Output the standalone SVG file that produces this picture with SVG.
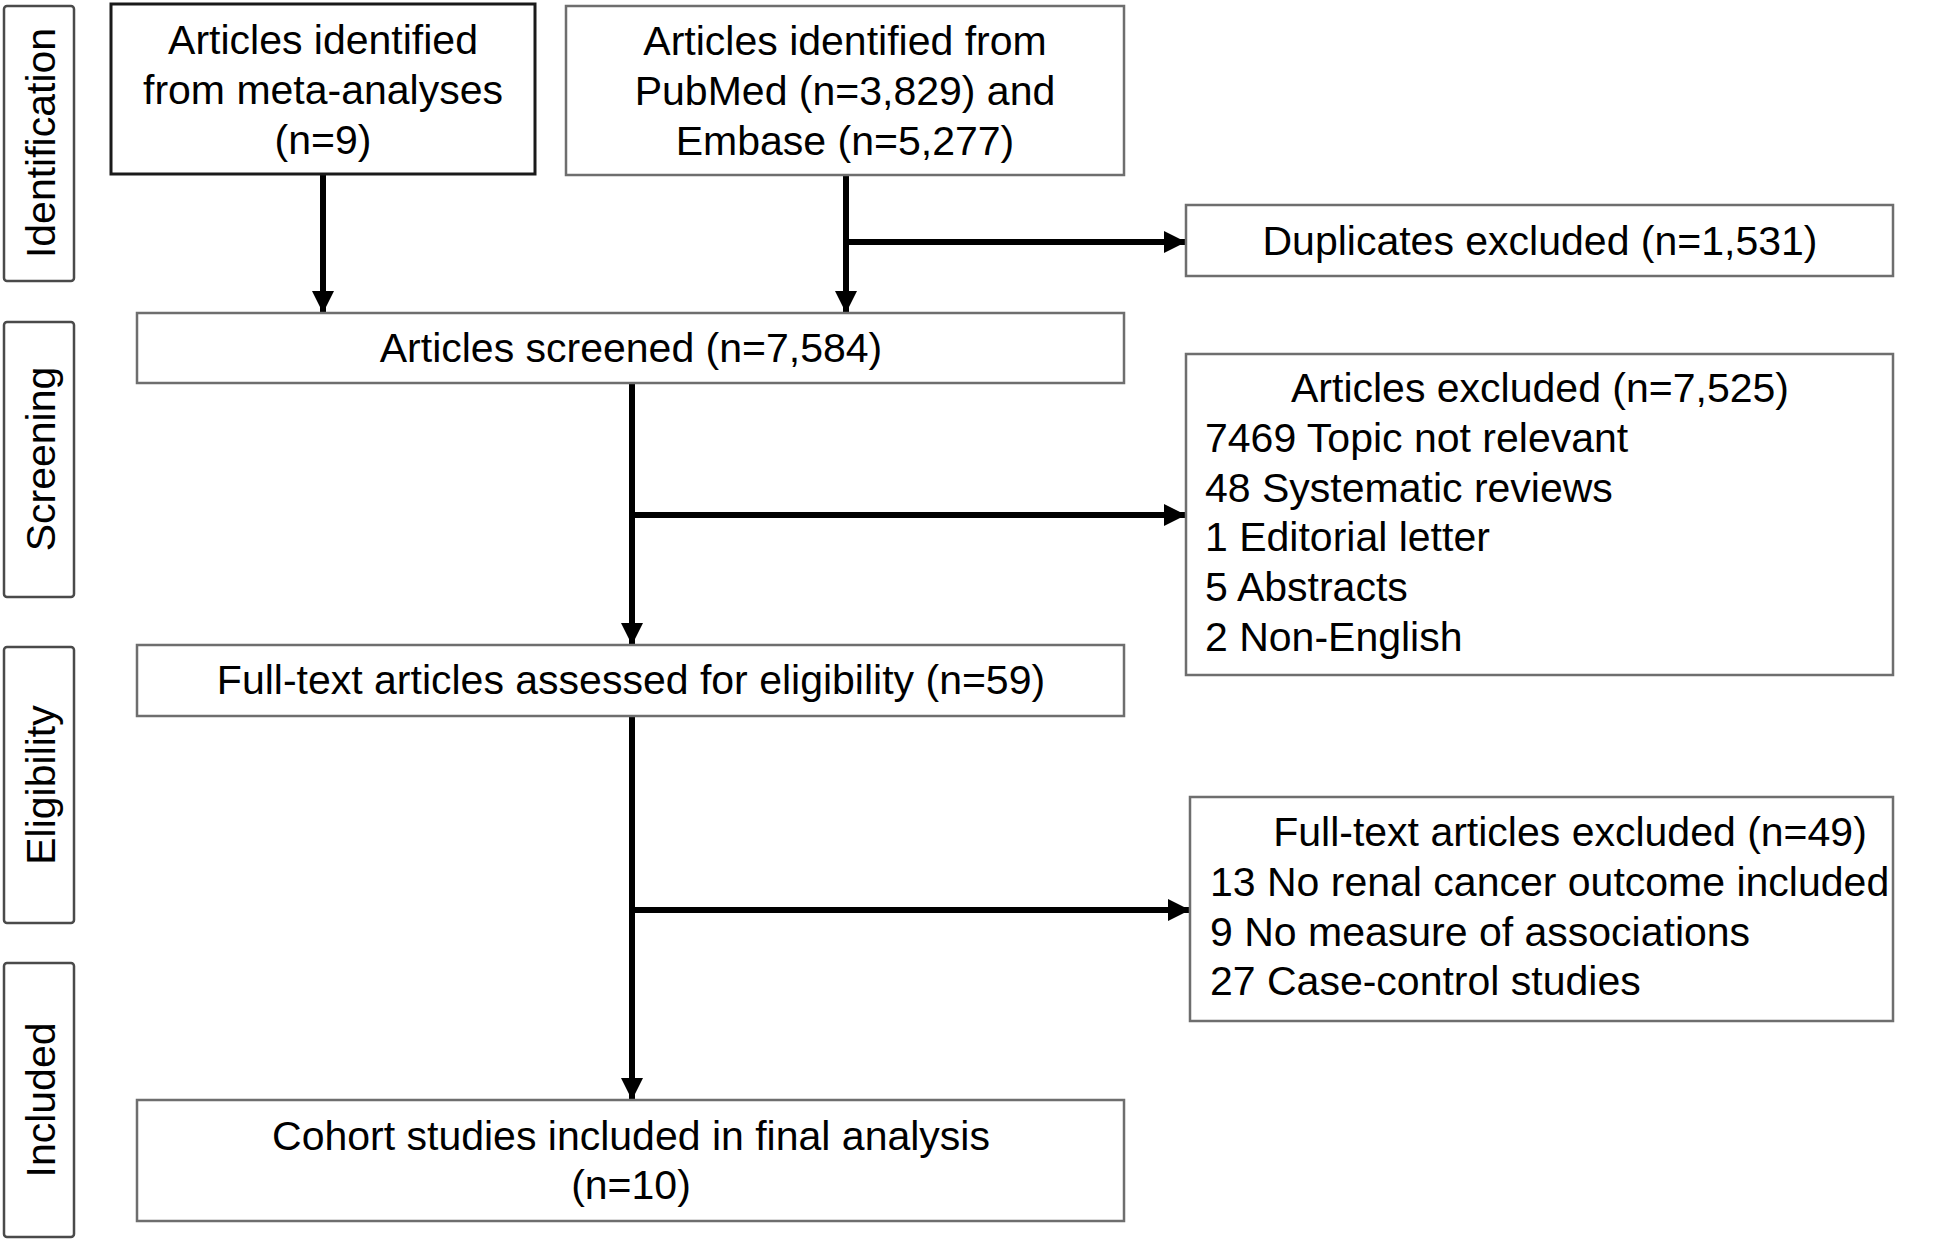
<svg xmlns="http://www.w3.org/2000/svg" width="1950" height="1240" viewBox="0 0 1950 1240">
<style>
.box{fill:#fff;stroke:#6e6e6e;stroke-width:2.5}
.strong{fill:#fff;stroke:#1a1a1a;stroke-width:3}
.side{fill:#fff;stroke:#4a4a4a;stroke-width:2.5}
.t{font-family:"Liberation Sans",Arial,sans-serif;font-size:41px;fill:#000}
.c{text-anchor:middle}
.conn{stroke:#000;stroke-width:6;fill:none}
</style>
<defs>
<marker id="arr" markerUnits="userSpaceOnUse" markerWidth="24" markerHeight="24" refX="22" refY="11" orient="auto">
<path d="M0,0 L22,11 L0,22 Z" fill="#000"/>
</marker>
</defs>
<rect width="1950" height="1240" fill="#fff"/>

<g id="phase-identification">
<rect class="side" x="4" y="6" width="70" height="275" rx="3"/>
<text class="t c" transform="translate(55,143) rotate(-90)">Identification</text>
</g>
<g id="phase-screening">
<rect class="side" x="4" y="322" width="70" height="275" rx="3"/>
<text class="t c" transform="translate(55,459) rotate(-90)">Screening</text>
</g>
<g id="phase-eligibility">
<rect class="side" x="4" y="647" width="70" height="276" rx="3"/>
<text class="t c" transform="translate(55,785) rotate(-90)">Eligibility</text>
</g>
<g id="phase-included">
<rect class="side" x="4" y="963" width="70" height="274" rx="3"/>
<text class="t c" transform="translate(55,1100) rotate(-90)">Included</text>
</g>

<g id="connectors">
<line class="conn" x1="323" y1="174" x2="323" y2="313" marker-end="url(#arr)"/>
<line class="conn" x1="846" y1="175" x2="846" y2="313" marker-end="url(#arr)"/>
<line class="conn" x1="846" y1="242" x2="1186" y2="242" marker-end="url(#arr)"/>
<line class="conn" x1="632" y1="383" x2="632" y2="645" marker-end="url(#arr)"/>
<line class="conn" x1="632" y1="515" x2="1186" y2="515" marker-end="url(#arr)"/>
<line class="conn" x1="632" y1="716" x2="632" y2="1100" marker-end="url(#arr)"/>
<line class="conn" x1="632" y1="910" x2="1190" y2="910" marker-end="url(#arr)"/>
</g>

<g id="meta">
<rect class="strong" x="111" y="4" width="424" height="170"/>
<text class="t c" x="323" y="54">Articles identified</text>
<text class="t c" x="323" y="104">from meta-analyses</text>
<text class="t c" x="323" y="154">(n=9)</text>
</g>
<g id="databases">
<rect class="box" x="566" y="6" width="558" height="169"/>
<text class="t c" x="845" y="55">Articles identified from</text>
<text class="t c" x="845" y="105">PubMed (n=3,829) and</text>
<text class="t c" x="845" y="155">Embase (n=5,277)</text>
</g>
<g id="duplicates">
<rect class="box" x="1186" y="205" width="707" height="71"/>
<text class="t c" x="1540" y="255">Duplicates excluded (n=1,531)</text>
</g>
<g id="screened">
<rect class="box" x="137" y="313" width="987" height="70"/>
<text class="t c" x="631" y="362">Articles screened (n=7,584)</text>
</g>
<g id="excluded">
<rect class="box" x="1186" y="354" width="707" height="321"/>
<text class="t c" x="1540" y="402">Articles excluded (n=7,525)</text>
<text class="t" x="1205" y="452">7469 Topic not relevant</text>
<text class="t" x="1205" y="502">48 Systematic reviews</text>
<text class="t" x="1205" y="551">1 Editorial letter</text>
<text class="t" x="1205" y="601">5 Abstracts</text>
<text class="t" x="1205" y="651">2 Non-English</text>
</g>
<g id="fulltext">
<rect class="box" x="137" y="645" width="987" height="71"/>
<text class="t c" x="631" y="694">Full-text articles assessed for eligibility (n=59)</text>
</g>
<g id="fulltext-excluded">
<rect class="box" x="1190" y="797" width="703" height="224"/>
<text class="t c" x="1570" y="846">Full-text articles excluded (n=49)</text>
<text class="t" x="1210" y="896">13 No renal cancer outcome included</text>
<text class="t" x="1210" y="946">9 No measure of associations</text>
<text class="t" x="1210" y="995">27 Case-control studies</text>
</g>
<g id="included">
<rect class="box" x="137" y="1100" width="987" height="121"/>
<text class="t c" x="631" y="1150">Cohort studies included in final analysis</text>
<text class="t c" x="631" y="1199">(n=10)</text>
</g>
</svg>
